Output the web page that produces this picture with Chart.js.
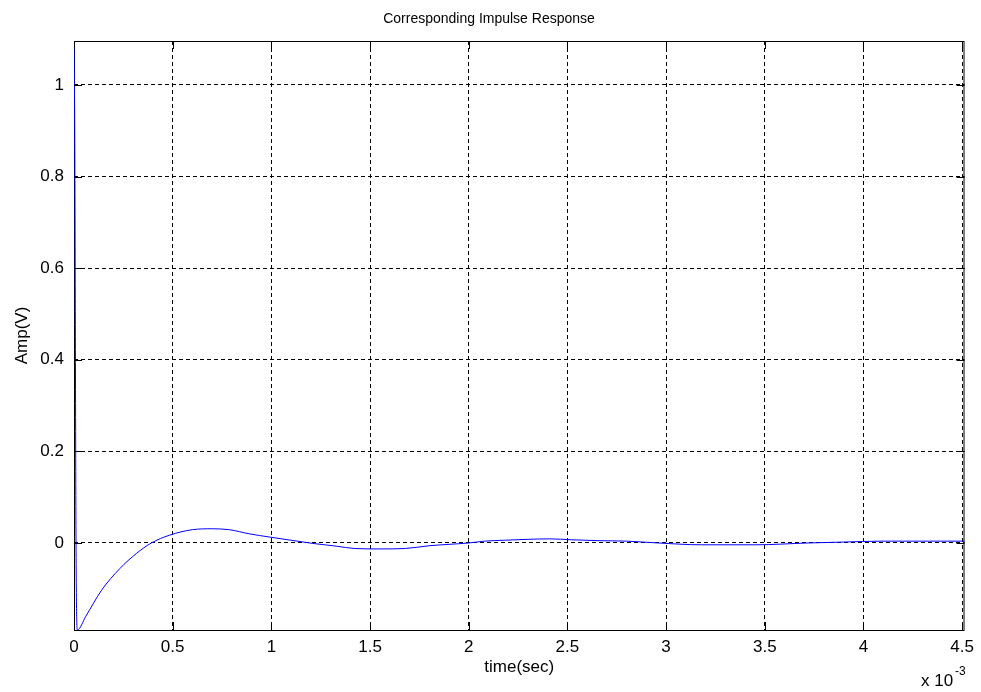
<!DOCTYPE html>
<html>
<head>
<meta charset="utf-8">
<title>Corresponding Impulse Response</title>
<script src="https://cdn.jsdelivr.net/npm/chart.js@4.4.1/dist/chart.umd.min.js"></script>
<style>
    html, body { margin: 0; padding: 0; background: #fff; }
    #wrap { width: 981px; height: 692px; }
</style>
</head>
<body>
<div id="wrap"><canvas id="impulseChart" width="981" height="692"></canvas></div>
<script>
// time axis is in units of 10^-3 s (shown by the "x 10^-3" note)
const timeMs = [0, 0.004, 0.007, 0.010, 0.017, 0.06, 0.14, 0.232, 0.316, 0.392, 0.484, 0.60, 0.70, 0.787,
    0.888, 0.99, 1.10, 1.21, 1.33, 1.42, 1.55, 1.68, 1.80, 1.90, 2.0, 2.08, 2.18, 2.30, 2.41, 2.52, 2.66,
    2.80, 2.96, 3.18, 3.45, 3.72, 3.90, 4.09, 4.30, 4.512];
const ampV = [1.096, 0.88, 0.45, 0.02, -0.19, -0.16, -0.103, -0.056, -0.023, 0, 0.017, 0.029, 0.031, 0.029,
    0.020, 0.013, 0.006, -0.001, -0.007, -0.012, -0.013, -0.012, -0.006, -0.003, 0, 0.004, 0.006, 0.008,
    0.009, 0.007, 0.005, 0.004, 0, -0.004, -0.004, 0, 0.002, 0.004, 0.004, 0.004];

const xTicks = [0, 0.5, 1, 1.5, 2, 2.5, 3, 3.5, 4, 4.5];
const xTickLabels = ['0', '0.5', '1', '1.5', '2', '2.5', '3', '3.5', '4', '4.5'];
const yTicks = [0, 0.2, 0.4, 0.6, 0.8, 1];
const yTickLabels = ['0', '0.2', '0.4', '0.6', '0.8', '1'];

const FONT = "'Liberation Sans', Arial, sans-serif";
const ctx = document.getElementById('impulseChart').getContext('2d');

// MATLAB-like box, inward ticks and the text around the axes
const matlabAxes = {
    id: 'matlabAxes',
    beforeDatasetsDraw(chart) {
        const { ctx, chartArea: a } = chart;
        ctx.save();
        ctx.strokeStyle = '#000';
        ctx.lineWidth = 1;
        ctx.strokeRect(a.left + 0.5, a.top + 0.5, a.right - a.left - 1, a.bottom - a.top);
        ctx.restore();
    },
    afterDraw(chart) {
        const { ctx, chartArea: a, scales } = chart;
        const len = 8;
        ctx.save();
        ctx.strokeStyle = '#000';
        ctx.lineWidth = 1;
        ctx.beginPath();
        xTicks.forEach(v => {
            const x = Math.round(scales.x.getPixelForValue(v)) + 0.5;
            ctx.moveTo(x, a.bottom); ctx.lineTo(x, a.bottom - len);
            ctx.moveTo(x, a.top); ctx.lineTo(x, a.top + len);
        });
        yTicks.forEach(v => {
            const y = Math.round(scales.y.getPixelForValue(v)) + 0.5;
            ctx.moveTo(a.left, y); ctx.lineTo(a.left + len, y);
            ctx.moveTo(a.right, y); ctx.lineTo(a.right - len, y);
        });
        ctx.stroke();

        ctx.fillStyle = '#000';
        ctx.textAlign = 'center';
        ctx.textBaseline = 'alphabetic';
        ctx.font = '14px ' + FONT;
        ctx.fillText('Corresponding Impulse Response', 489, 23);

        ctx.font = '17px ' + FONT;
        ctx.fillText('time(sec)', (a.left + a.right) / 2, 672);

        ctx.textAlign = 'left';
        ctx.fillText('x 10', 921, 686);
        ctx.font = '12px ' + FONT;
        ctx.fillText('-3', 955, 675);

        ctx.translate(22, (a.top + a.bottom) / 2);
        ctx.rotate(-Math.PI / 2);
        ctx.textAlign = 'center';
        ctx.textBaseline = 'middle';
        ctx.font = '17px ' + FONT;
        ctx.fillText('Amp(V)', 0, 0);
        ctx.restore();
    }
};

const chart = new Chart(ctx, {
    type: 'line',
    data: {
        datasets: [{
            label: 'impulse response',
            data: timeMs.map((t, i) => ({ x: t, y: ampV[i] })),
            borderColor: '#0000ff',
            borderWidth: 1,
            pointRadius: 0,
            cubicInterpolationMode: 'monotone',
            fill: false
        }]
    },
    options: {
        responsive: false,
        animation: false,
        devicePixelRatio: 1,
        layout: { padding: { left: 0, top: 41, right: 13, bottom: 0 } },
        plugins: {
            legend: { display: false },
            tooltip: { enabled: false }
        },
        scales: {
            x: {
                type: 'linear',
                min: 0,
                max: 4.512,
                z: 1,
                afterBuildTicks: s => { s.ticks = xTicks.map(v => ({ value: v })); },
                afterFit: s => { s.height = 62; },
                ticks: {
                    autoSkip: false,
                    maxRotation: 0,
                    padding: 7,
                    color: '#000',
                    font: { family: FONT, size: 17 },
                    callback: (v, i) => xTickLabels[i]
                },
                grid: {
                    drawTicks: false,
                    lineWidth: 1,
                    color: c => (c.tick && c.tick.value === 0 ? 'rgba(0,0,0,0)' : '#000')
                },
                border: { display: false, dash: [4, 3] }
            },
            y: {
                type: 'linear',
                min: -0.19,
                max: 1.096,
                z: 1,
                afterBuildTicks: s => { s.ticks = yTicks.map(v => ({ value: v })); },
                afterFit: s => { s.width = 74; },
                ticks: {
                    autoSkip: false,
                    padding: 10,
                    color: '#000',
                    font: { family: FONT, size: 17 },
                    callback: (v, i) => yTickLabels[i]
                },
                grid: {
                    drawTicks: false,
                    lineWidth: 1,
                    color: '#000'
                },
                border: { display: false, dash: [4, 3] }
            }
        }
    },
    plugins: [matlabAxes]
});
</script>
</body>
</html>
